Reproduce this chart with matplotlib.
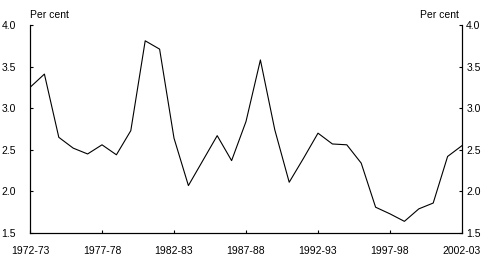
import matplotlib
matplotlib.use("Agg")
import matplotlib.pyplot as plt
import numpy as np

# Financial years 1972-73 .. 2002-03
years = [f"{y}-{str(y + 1)[-2:]}" for y in range(1972, 2003)]
values = [3.25, 3.41, 2.65, 2.52, 2.45, 2.56, 2.44, 2.73, 3.81, 3.71,
          2.64, 2.07, 2.37, 2.67, 2.37, 2.84, 3.58, 2.74, 2.11, 2.40,
          2.70, 2.57, 2.56, 2.34, 1.81, 1.73, 1.64, 1.79, 1.86, 2.42,
          2.55]
tick_years = ["1972-73", "1977-78", "1982-83", "1987-88", "1992-93",
              "1997-98", "2002-03"]
y_ticks = [1.5, 2.0, 2.5, 3.0, 3.5, 4.0]

plt.rcParams['font.family'] = ['Liberation Sans', 'DejaVu Sans']

fig = plt.figure(figsize=(4.92, 2.65), dpi=100)
ax = fig.add_axes([30 / 492, 1 - 233 / 265, 432 / 492, 208 / 265])

x = np.arange(len(years))
ax.plot(x, values, color='black', linewidth=0.8)

ax.set_xlim(0, len(years) - 1)
ax.set_ylim(1.5, 4.0)
ax.set_xticks([years.index(t) for t in tick_years])
ax.set_xticklabels(tick_years)
ax.set_yticks(y_ticks)
ax.set_yticklabels([f"{v:.1f}" for v in y_ticks])

# right-hand axis mirrors the left
ax2 = ax.twinx()
ax2.set_ylim(ax.get_ylim())
ax2.set_yticks(y_ticks)
ax2.set_yticklabels([f"{v:.1f}" for v in y_ticks])

for a in (ax, ax2):
    a.spines['top'].set_visible(False)
    for s in a.spines.values():
        s.set_linewidth(0.8)
ax.tick_params(axis='x', direction='in', length=2.5, width=0.8, pad=9, labelsize=7.5)
ax.tick_params(axis='y', direction='in', length=2.5, width=0.8, pad=10, labelsize=7.5)
ax2.tick_params(axis='y', direction='in', length=2.5, width=0.8, pad=3, labelsize=7.5)

fig.text(30 / 492, 1 - 15 / 265, "Per cent", ha='left', va='center', fontsize=7.5)
fig.text(459 / 492, 1 - 15 / 265, "Per cent", ha='right', va='center', fontsize=7.5)

fig.savefig("out.png", dpi=100)
